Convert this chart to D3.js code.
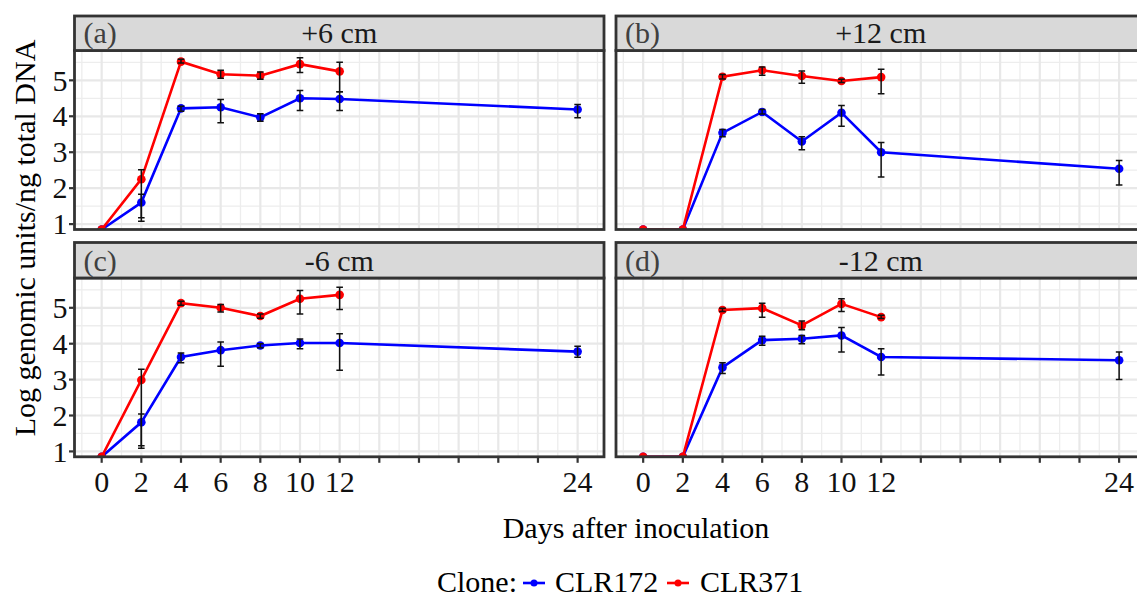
<!DOCTYPE html>
<html>
<head>
<meta charset="utf-8">
<script src="https://cdn.jsdelivr.net/npm/d3@7"></script>
<style>
  body { margin: 0; background: #fff; }
  text { font-family: "Liberation Serif", "Times New Roman", serif; }
</style>
</head>
<body>
<div id="chart"></div>
<script>
// days after inoculation (CLR371 has no day 24 sample)
var days = [0, 2, 4, 6, 8, 10, 12, 24];
var clones = ["CLR172", "CLR371"];
var cloneColors = ["#0000ff", "#ff0000"];
var panelTags = ["(a)", "(b)", "(c)", "(d)"];
var panelTitles = ["+6 cm", "+12 cm", "-6 cm", "-12 cm"];
var xTicks = [0, 2, 4, 6, 8, 10, 12, 14, 16, 18, 20, 22, 24];
var xTickLabels = ["0", "2", "4", "6", "8", "10", "12", "", "", "", "", "", "24"];
var yTicks = [1, 2, 3, 4, 5];

// +6 cm
var p6_172 = [0.85, 1.60, 4.22, 4.25, 3.97, 4.50, 4.48, 4.19];
var p6_172_lo = [null, 1.08, 4.14, 3.82, 3.86, 4.16, 4.16, 3.96];
var p6_172_hi = [null, 1.83, 4.28, 4.47, 4.07, 4.72, 4.68, 4.33];
var p6_371 = [0.85, 2.25, 5.52, 5.17, 5.13, 5.45, 5.25];
var p6_371_lo = [null, 1.18, 5.48, 5.06, 5.03, 5.22, 4.68];
var p6_371_hi = [null, 2.51, 5.59, 5.28, 5.23, 5.63, 5.50];

// +12 cm
var p12_172 = [0.85, 0.85, 3.54, 4.12, 3.30, 4.10, 3.00, 2.54];
var p12_172_lo = [null, null, 3.43, 4.06, 3.07, 3.72, 2.31, 2.09];
var p12_172_hi = [null, null, 3.63, 4.19, 3.43, 4.30, 3.27, 2.77];
var p12_371 = [0.85, 0.85, 5.10, 5.28, 5.12, 4.98, 5.09];
var p12_371_lo = [null, null, 5.04, 5.14, 4.92, 4.94, 4.63];
var p12_371_hi = [null, null, 5.16, 5.37, 5.26, 5.03, 5.31];

// -6 cm
var m6_172 = [0.85, 1.81, 3.63, 3.82, 3.95, 4.02, 4.02, 3.78];
var m6_172_lo = [null, 1.09, 3.47, 3.37, 3.89, 3.86, 3.26, 3.62];
var m6_172_hi = [null, 2.04, 3.74, 4.05, 4.00, 4.13, 4.28, 3.93];
var m6_371 = [0.85, 2.99, 5.13, 5.00, 4.77, 5.25, 5.36];
var m6_371_lo = [null, 1.16, 5.07, 4.88, 4.71, 4.83, 4.95];
var m6_371_hi = [null, 3.29, 5.18, 5.09, 4.83, 5.48, 5.57];

// -12 cm
var m12_172 = [0.85, 0.85, 3.34, 4.10, 4.14, 4.23, 3.63, 3.54];
var m12_172_lo = [null, null, 3.17, 3.96, 4.00, 3.77, 3.13, 3.00];
var m12_172_hi = [null, null, 3.47, 4.21, 4.23, 4.45, 3.86, 3.77];
var m12_371 = [0.85, 0.85, 4.94, 4.99, 4.51, 5.11, 4.74];
var m12_371_lo = [null, null, 4.90, 4.74, 4.39, 4.90, 4.70];
var m12_371_hi = [null, null, 4.99, 5.13, 4.63, 5.25, 4.79];

var panelData = [
  [[p6_172, p6_172_lo, p6_172_hi], [p6_371, p6_371_lo, p6_371_hi]],
  [[p12_172, p12_172_lo, p12_172_hi], [p12_371, p12_371_lo, p12_371_hi]],
  [[m6_172, m6_172_lo, m6_172_hi], [m6_371, m6_371_lo, m6_371_hi]],
  [[m12_172, m12_172_lo, m12_172_hi], [m12_371, m12_371_lo, m12_371_hi]]
];

// layout
var W = 1137, H = 598;
var pw = 529.5;
var colX = [74.5, 616];
var stripTop = [16, 242.5], plotTop = [50.5, 278], plotBottom = [229.5, 456.8];
var border = "#333333";

var svg = d3.select("#chart").append("svg")
  .attr("width", W).attr("height", H);

svg.append("rect").attr("width", W).attr("height", H).attr("fill", "#fff");

var x = d3.scaleLinear().domain([-1.37, 25.33]).range([0, pw]);

panelData.forEach(function(series, i) {
  var col = i % 2, row = Math.floor(i / 2);
  var x0 = colX[col], top = plotTop[row], ph = plotBottom[row] - plotTop[row];
  var y = d3.scaleLinear().domain([0.85, 5.83]).range([ph, 0]);

  var g = svg.append("g").attr("transform", "translate(" + x0 + "," + top + ")");

  svg.append("clipPath").attr("id", "clip" + i)
    .append("rect").attr("width", pw).attr("height", ph);

  var plot = g.append("g").attr("clip-path", "url(#clip" + i + ")");

  // minor grid
  var xMinor = d3.range(-1, 26, 2);
  var yMinor = d3.range(1.5, 6, 1);
  plot.selectAll(".vminor").data(xMinor).enter().append("line")
    .attr("x1", function(d) { return x(d); }).attr("x2", function(d) { return x(d); })
    .attr("y1", 0).attr("y2", ph)
    .attr("stroke", "#ededed").attr("stroke-width", 1.3);
  plot.selectAll(".hminor").data(yMinor).enter().append("line")
    .attr("y1", function(d) { return y(d); }).attr("y2", function(d) { return y(d); })
    .attr("x1", 0).attr("x2", pw)
    .attr("stroke", "#ededed").attr("stroke-width", 1.3);
  // major grid
  plot.selectAll(".vmajor").data(xTicks).enter().append("line")
    .attr("x1", function(d) { return x(d); }).attr("x2", function(d) { return x(d); })
    .attr("y1", 0).attr("y2", ph)
    .attr("stroke", "#e8e8e8").attr("stroke-width", 2.2);
  plot.selectAll(".hmajor").data(yTicks).enter().append("line")
    .attr("y1", function(d) { return y(d); }).attr("y2", function(d) { return y(d); })
    .attr("x1", 0).attr("x2", pw)
    .attr("stroke", "#e8e8e8").attr("stroke-width", 2.2);

  var line = d3.line()
    .x(function(d) { return x(d.day); })
    .y(function(d) { return y(d.v); });

  var pts = series.map(function(s) {
    return s[0].map(function(v, k) {
      return { day: days[k], v: v, lo: s[1][k], hi: s[2][k] };
    });
  });

  // lines and points
  pts.forEach(function(p, c) {
    plot.append("path").datum(p)
      .attr("d", line)
      .attr("fill", "none")
      .attr("stroke", cloneColors[c])
      .attr("stroke-width", 2.6);
    plot.selectAll(".pt" + c).data(p).enter().append("circle")
      .attr("cx", function(d) { return x(d.day); })
      .attr("cy", function(d) { return y(d.v); })
      .attr("r", 4.3)
      .attr("fill", cloneColors[c]);
  });

  // error bars on top
  pts.forEach(function(p) {
    var e = p.filter(function(d) { return d.lo != null; });
    plot.selectAll(null).data(e).enter().append("line")
      .attr("x1", function(d) { return x(d.day); }).attr("x2", function(d) { return x(d.day); })
      .attr("y1", function(d) { return y(d.lo); }).attr("y2", function(d) { return y(d.hi); })
      .attr("stroke", "#111").attr("stroke-width", 1.5);
    ["lo", "hi"].forEach(function(k) {
      plot.selectAll(null).data(e).enter().append("line")
        .attr("x1", function(d) { return x(d.day) - 3.3; }).attr("x2", function(d) { return x(d.day) + 3.3; })
        .attr("y1", function(d) { return y(d[k]); }).attr("y2", function(d) { return y(d[k]); })
        .attr("stroke", "#111").attr("stroke-width", 1.5);
    });
  });

  // panel border
  g.append("rect").attr("width", pw).attr("height", ph)
    .attr("fill", "none").attr("stroke", border).attr("stroke-width", 2.8);

  // strip
  var sh = top - stripTop[row];
  var strip = svg.append("g").attr("transform", "translate(" + x0 + "," + stripTop[row] + ")");
  strip.append("rect").attr("width", pw).attr("height", sh)
    .attr("fill", "#d9d9d9").attr("stroke", border).attr("stroke-width", 2.8);
  strip.append("text").attr("x", 9).attr("y", sh - 7.5)
    .attr("font-size", 30).attr("fill", "#404040").text(panelTags[i]);
  strip.append("text").attr("x", pw / 2).attr("y", sh - 7.5)
    .attr("text-anchor", "middle").attr("font-size", 30).attr("fill", "#1a1a1a")
    .text(panelTitles[i]);

  // y axis on left column
  if (col === 0) {
    g.selectAll(".yt").data(yTicks).enter().append("line")
      .attr("x1", -5.5).attr("x2", -1)
      .attr("y1", function(d) { return y(d); }).attr("y2", function(d) { return y(d); })
      .attr("stroke", border).attr("stroke-width", 2.2);
    g.selectAll(".yl").data(yTicks).enter().append("text")
      .attr("x", -7).attr("y", function(d) { return y(d); })
      .attr("dy", "0.34em").attr("text-anchor", "end")
      .attr("font-size", 30).attr("fill", "#111")
      .text(function(d) { return d; });
  }

  // x axis on bottom row
  if (row === 1) {
    g.selectAll(".xt").data(xTicks).enter().append("line")
      .attr("x1", function(d) { return x(d); }).attr("x2", function(d) { return x(d); })
      .attr("y1", ph + 1).attr("y2", ph + 6)
      .attr("stroke", border).attr("stroke-width", 2.2);
    g.selectAll(".xl").data(xTicks).enter().append("text")
      .attr("x", function(d) { return x(d); }).attr("y", ph + 35)
      .attr("text-anchor", "middle").attr("font-size", 30).attr("fill", "#111")
      .text(function(d, k) { return xTickLabels[k]; });
  }
});

// axis titles
svg.append("text")
  .attr("transform", "translate(35,238) rotate(-90)")
  .attr("text-anchor", "middle").attr("font-size", 30).attr("fill", "#000")
  .text("Log genomic units/ng total DNA");

svg.append("text")
  .attr("x", 636).attr("y", 538)
  .attr("text-anchor", "middle").attr("font-size", 30).attr("fill", "#000")
  .text("Days after inoculation");

// legend
var legend = svg.append("g").attr("transform", "translate(0,592)");
legend.append("text").attr("x", 437).attr("y", 0)
  .attr("font-size", 30).attr("fill", "#000").text("Clone:");
var keyX = [523, 667], labX = [555, 700];
clones.forEach(function(c, k) {
  legend.append("line")
    .attr("x1", keyX[k]).attr("x2", keyX[k] + 22)
    .attr("y1", -9).attr("y2", -9)
    .attr("stroke", cloneColors[k]).attr("stroke-width", 2.6);
  legend.append("circle").attr("cx", keyX[k] + 11).attr("cy", -9).attr("r", 3.5)
    .attr("fill", cloneColors[k]);
  legend.append("text").attr("x", labX[k]).attr("y", 0)
    .attr("font-size", 30).attr("fill", "#000").text(c);
});
</script>
</body>
</html>
